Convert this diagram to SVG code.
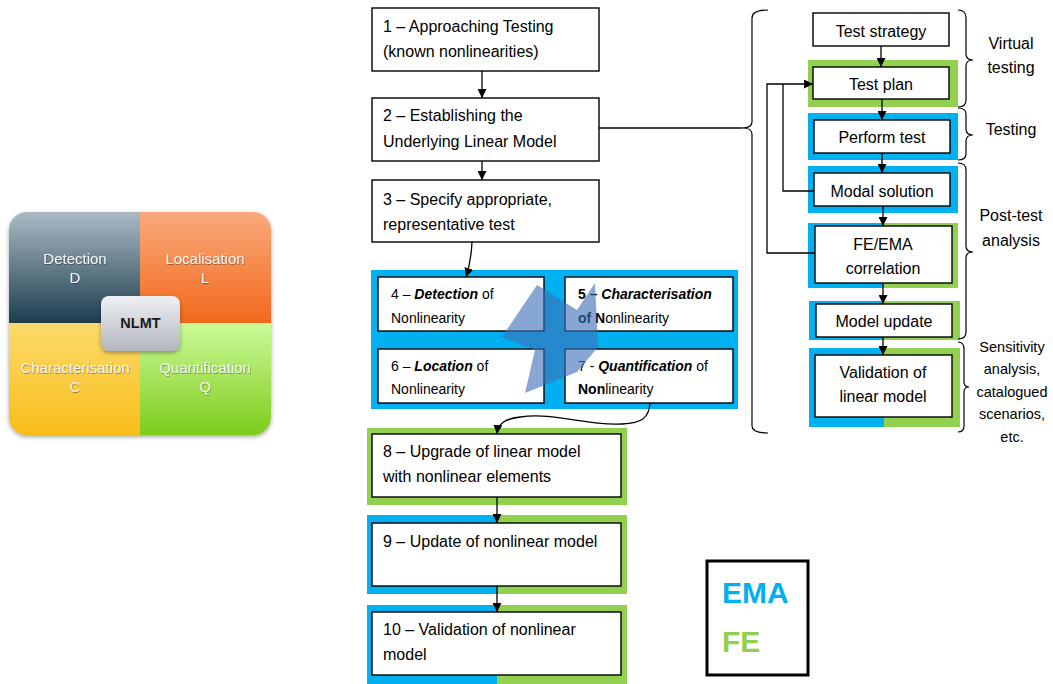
<svg xmlns="http://www.w3.org/2000/svg" width="1053" height="684" viewBox="0 0 1053 684">
<style>
.box{fill:#fff;stroke:#000;stroke-width:1.4}
.t{font-family:"Liberation Sans",Arial,sans-serif;font-size:16px;fill:#000}
.s{font-family:"Liberation Sans",Arial,sans-serif;font-size:14px;fill:#000}
.r{font-family:"Liberation Sans",Arial,sans-serif;font-size:16px;fill:#000;text-anchor:middle}
.lab{font-family:"Liberation Sans",Arial,sans-serif;font-size:16px;fill:#000;text-anchor:middle}
.sm{font-family:"Liberation Sans",Arial,sans-serif;font-size:14.5px;fill:#000;text-anchor:middle}
.q{font-family:"Liberation Sans",Arial,sans-serif;font-size:15px;fill:#f4f4f4;text-anchor:middle}
.bl{fill:#00b0f0}
.gr{fill:#92d050}
.ln{fill:none;stroke:#000;stroke-width:1.3}
.br{fill:none;stroke:#000;stroke-width:1.2}
</style>
<defs>
<marker id="ah" viewBox="0 0 10 10" refX="10" refY="5" markerWidth="9" markerHeight="9" markerUnits="userSpaceOnUse" orient="auto">
<path d="M0,0 L10,5 L0,10 z" fill="#000"/>
</marker>
<linearGradient id="gD" x1="0" y1="0" x2="0" y2="1"><stop offset="0" stop-color="#aabbc5"/><stop offset="1" stop-color="#1d3d4e"/></linearGradient>
<linearGradient id="gL" x1="0" y1="0" x2="0" y2="1"><stop offset="0" stop-color="#f9aa7c"/><stop offset="1" stop-color="#f2681c"/></linearGradient>
<linearGradient id="gC" x1="0" y1="0" x2="0" y2="1"><stop offset="0" stop-color="#fcdb6c"/><stop offset="1" stop-color="#f8bd18"/></linearGradient>
<linearGradient id="gQ" x1="0" y1="0" x2="0" y2="1"><stop offset="0" stop-color="#ccfb98"/><stop offset="1" stop-color="#7ecb1c"/></linearGradient>
<linearGradient id="gN" x1="0" y1="0" x2="0" y2="1"><stop offset="0" stop-color="#eef0f4"/><stop offset="1" stop-color="#b2b6be"/></linearGradient>
<clipPath id="cq"><rect x="9" y="212" width="262" height="223" rx="18"/></clipPath>
<filter id="sh" x="-10%" y="-10%" width="120%" height="125%"><feDropShadow dx="0" dy="2" stdDeviation="2" flood-color="#000" flood-opacity="0.35"/></filter>
<filter id="ts" x="-10%" y="-20%" width="120%" height="140%"><feDropShadow dx="0.5" dy="0.8" stdDeviation="0.6" flood-color="#000" flood-opacity="0.45"/></filter>
</defs>

<!-- Left NLMT quadrant -->
<g id="quadrant">
<g filter="url(#sh)">
<g clip-path="url(#cq)">
<rect x="9" y="212" width="131" height="111" fill="url(#gD)"/>
<rect x="140" y="212" width="131" height="111" fill="url(#gL)"/>
<rect x="9" y="323" width="131" height="112" fill="url(#gC)"/>
<rect x="140" y="323" width="131" height="112" fill="url(#gQ)"/>
</g>
</g>
<g filter="url(#ts)">
<text class="q" x="75" y="264">Detection</text>
<text class="q" x="75" y="283">D</text>
<text class="q" x="205" y="264">Localisation</text>
<text class="q" x="205" y="283">L</text>
<text class="q" x="75" y="373">Characterisation</text>
<text class="q" x="75" y="392">C</text>
<text class="q" x="205" y="373">Quantification</text>
<text class="q" x="205" y="392">Q</text>
</g>
<rect x="101" y="296" width="79" height="55" rx="8" fill="url(#gN)" filter="url(#sh)"/>
<text x="140.5" y="328" font-family="Liberation Sans,Arial,sans-serif" font-size="14.5" font-weight="bold" fill="#1a1a1a" text-anchor="middle">NLMT</text>
</g>

<!-- Frames -->
<g id="frames">
<rect class="bl" x="371" y="270" width="367" height="139"/>
<rect class="gr" x="367" y="428" width="260" height="77"/>
<rect class="bl" x="367" y="515" width="130" height="79"/>
<rect class="gr" x="497" y="515" width="130" height="79"/>
<rect class="bl" x="367" y="605" width="130" height="79"/>
<rect class="gr" x="497" y="605" width="130" height="79"/>
<rect class="gr" x="808" y="60" width="150" height="47"/>
<rect class="bl" x="808" y="113" width="150" height="47"/>
<rect class="bl" x="808" y="166" width="150" height="47"/>
<rect class="bl" x="808" y="223" width="75" height="65"/>
<rect class="gr" x="883" y="223" width="75" height="65"/>
<rect class="bl" x="809" y="301" width="75" height="39"/>
<rect class="gr" x="884" y="301" width="76" height="39"/>
<rect class="bl" x="809" y="348" width="75" height="79"/>
<rect class="gr" x="884" y="348" width="76" height="79"/>
</g>

<!-- Left flow -->
<g id="n1"><rect class="box" x="372" y="8" width="227" height="63"/>
<text class="t" x="383" y="32">1 – Approaching Testing</text><text class="t" x="383" y="57">(known nonlinearities)</text></g>
<g id="n2"><rect class="box" x="372" y="98" width="227" height="63"/>
<text class="t" x="383" y="121">2 – Establishing the</text><text class="t" x="383" y="147">Underlying Linear Model</text></g>
<g id="n3"><rect class="box" x="372" y="180" width="227" height="62"/>
<text class="t" x="383" y="205">3 – Specify appropriate,</text><text class="t" x="383" y="230">representative test</text></g>
<g id="n4"><rect class="box" x="378" y="277" width="166" height="54"/>
<text class="s" x="391" y="299">4 – <tspan font-weight="bold" font-style="italic">Detection</tspan> of</text><text class="s" x="391" y="323">Nonlinearity</text></g>
<g id="n5"><rect class="box" x="565" y="277" width="168" height="54"/>
<text class="s" x="578" y="299"><tspan font-weight="bold">5 – </tspan><tspan font-weight="bold" font-style="italic">Characterisation</tspan></text><text class="s" x="578" y="323"><tspan font-weight="bold">of N</tspan>onlinearity</text></g>
<g id="n6"><rect class="box" x="378" y="349" width="166" height="54"/>
<text class="s" x="391" y="371">6 – <tspan font-weight="bold" font-style="italic">Location</tspan> of</text><text class="s" x="391" y="394">Nonlinearity</text></g>
<g id="n7"><rect class="box" x="565" y="349" width="168" height="54"/>
<text class="s" x="578" y="371">7 - <tspan font-weight="bold" font-style="italic">Quantification</tspan> of</text><text class="s" x="578" y="394"><tspan font-weight="bold">Non</tspan>linearity</text></g>

<!-- translucent arrow shape -->
<g id="swoosh">
<polygon points="537,285 577,310 595,283 598,347 577,372 525,393 535,350 502,337" fill="#3d6fb8" fill-opacity="0.62"/>
</g>

<g id="n8"><rect class="box" x="372" y="434" width="249" height="63"/>
<text class="t" x="383" y="457">8 – Upgrade of linear model</text><text class="t" x="383" y="482">with nonlinear elements</text></g>
<g id="n9"><rect class="box" x="372" y="523" width="249" height="63"/>
<text class="t" x="383" y="547">9 – Update of nonlinear model</text></g>
<g id="n10"><rect class="box" x="372" y="612" width="249" height="63"/>
<text class="t" x="383" y="635">10 – Validation of nonlinear</text><text class="t" x="383" y="660">model</text></g>

<!-- Right column -->
<g id="r1"><rect class="box" x="813" y="13" width="136" height="33"/><text class="r" x="881" y="37">Test strategy</text></g>
<g id="r2"><rect class="box" x="813" y="67" width="136" height="32"/><text class="r" x="881" y="90">Test plan</text></g>
<g id="r3"><rect class="box" x="814" y="120" width="136" height="33"/><text class="r" x="882" y="143">Perform test</text></g>
<g id="r4"><rect class="box" x="814" y="173" width="136" height="33"/><text class="r" x="882" y="197">Modal solution</text></g>
<g id="r5"><rect class="box" x="815" y="226" width="137" height="57"/><text class="r" x="883" y="250">FE/EMA</text><text class="r" x="883" y="274">correlation</text></g>
<g id="r6"><rect class="box" x="816" y="304" width="136" height="33"/><text class="r" x="884" y="327">Model update</text></g>
<g id="r7"><rect class="box" x="815" y="355" width="137" height="62"/><text class="r" x="883" y="378">Validation of</text><text class="r" x="883" y="402">linear model</text></g>

<!-- Legend -->
<g id="legend">
<rect x="707" y="561" width="101" height="114" fill="#fff" stroke="#000" stroke-width="3"/>
<text x="722" y="603" font-family="Liberation Sans,Arial,sans-serif" font-size="30" font-weight="bold" fill="#00b0f0">EMA</text>
<text x="722" y="652" font-family="Liberation Sans,Arial,sans-serif" font-size="30" font-weight="bold" fill="#92d050">FE</text>
</g>

<!-- Labels -->
<g id="labels">
<text class="lab" x="1011" y="49">Virtual</text>
<text class="lab" x="1011" y="73">testing</text>
<text class="lab" x="1011" y="135">Testing</text>
<text class="lab" x="1011" y="221">Post-test</text>
<text class="lab" x="1011" y="246">analysis</text>
<text class="sm" x="1012" y="352">Sensitivity</text>
<text class="sm" x="1012" y="374">analysis,</text>
<text class="sm" x="1012" y="397">catalogued</text>
<text class="sm" x="1012" y="419">scenarios,</text>
<text class="sm" x="1012" y="442">etc.</text>
</g>

<!-- Connectors -->
<g id="connectors">
<line class="ln" x1="482" y1="71" x2="482" y2="98" marker-end="url(#ah)"/>
<line class="ln" x1="482" y1="161" x2="482" y2="180" marker-end="url(#ah)"/>
<path class="ln" d="M472,242 Q471,262 466,277" marker-end="url(#ah)"/>
<path class="ln" d="M650,403 C649,418 642,423 622,424 C585,426 555,412 520,417 C504,419 498,424 497,434" marker-end="url(#ah)"/>
<line class="ln" x1="497" y1="497" x2="497" y2="523" marker-end="url(#ah)"/>
<line class="ln" x1="497" y1="586" x2="497" y2="612" marker-end="url(#ah)"/>
<line class="ln" x1="599" y1="128" x2="742" y2="128"/>
<line class="ln" x1="881" y1="46" x2="881" y2="67" marker-end="url(#ah)"/>
<line class="ln" x1="882" y1="99" x2="882" y2="120" marker-end="url(#ah)"/>
<line class="ln" x1="882" y1="153" x2="882" y2="173" marker-end="url(#ah)"/>
<line class="ln" x1="883" y1="206" x2="883" y2="226" marker-end="url(#ah)"/>
<line class="ln" x1="883" y1="283" x2="883" y2="304" marker-end="url(#ah)"/>
<line class="ln" x1="883" y1="337" x2="883" y2="355" marker-end="url(#ah)"/>
<polyline class="ln" points="814,191 783,191 783,84"/>
<polyline class="ln" points="815,253 767,253 767,84 813,84" marker-end="url(#ah)"/>
<!-- braces -->
<path class="br" d="M768,10 Q752,10 752,18 L752,122 Q752,128 742,128 Q752,128 752,134 L752,426 Q752,433 768,433"/>
<path class="br" d="M958,10 Q966,10 966,18 L966,54 Q966,60 973,60 Q966,60 966,66 L966,100 Q966,107 958,107"/>
<path class="br" d="M958,108 Q966,108 966,114 L966,129 Q966,135 973,135 Q966,135 966,141 L966,154 Q966,160 958,160"/>
<path class="br" d="M958,163 Q966,163 966,170 L966,246 Q966,252 973,252 Q966,252 966,258 L966,332 Q966,339 958,339"/>
<path class="br" d="M958,342 Q964,342 964,349 L964,382 Q964,387 969,387 Q964,387 964,392 L964,426 Q964,432 958,432"/>
</g>
</svg>
